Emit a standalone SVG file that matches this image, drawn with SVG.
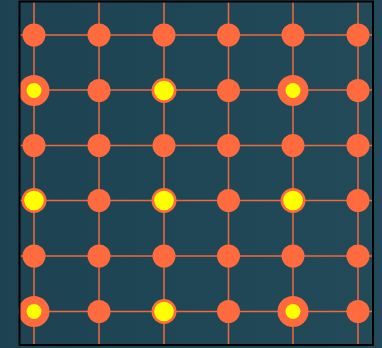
<svg xmlns="http://www.w3.org/2000/svg" width="382" height="348" viewBox="0 0 382 348">
<defs>
<linearGradient id="bg" x1="0" y1="0" x2="1" y2="0">
<stop offset="0" stop-color="#1d4352"/>
<stop offset="1" stop-color="#224a58"/>
</linearGradient>
</defs>
<style>
.ln{stroke:#f0683f;stroke-width:1.5;fill:none}
.n{fill:#ff6a3e}
.y{fill:#ffff00}
</style>
<rect x="0" y="0" width="382" height="348" fill="url(#bg)"/>
<g id="connectors">
<line class="ln" x1="34" y1="2" x2="34" y2="345"/>
<line class="ln" x1="99" y1="2" x2="99" y2="345"/>
<line class="ln" x1="164" y1="2" x2="164" y2="345"/>
<line class="ln" x1="228.5" y1="2" x2="228.5" y2="345"/>
<line class="ln" x1="293" y1="2" x2="293" y2="345"/>
<line class="ln" x1="358" y1="2" x2="358" y2="345"/>
<line class="ln" x1="20" y1="35" x2="373" y2="35"/>
<line class="ln" x1="20" y1="90" x2="373" y2="90"/>
<line class="ln" x1="20" y1="145.5" x2="373" y2="145.5"/>
<line class="ln" x1="20" y1="200.5" x2="373" y2="200.5"/>
<line class="ln" x1="20" y1="256" x2="373" y2="256"/>
<line class="ln" x1="20" y1="311.5" x2="373" y2="311.5"/>
</g>
<g id="n-0-0"><circle class="n" cx="34" cy="35" r="11.5"/></g>
<g id="n-0-1"><circle class="n" cx="99" cy="35" r="11.5"/></g>
<g id="n-0-2"><circle class="n" cx="164" cy="35" r="11.5"/></g>
<g id="n-0-3"><circle class="n" cx="228.5" cy="35" r="11.5"/></g>
<g id="n-0-4"><circle class="n" cx="293" cy="35" r="11.5"/></g>
<g id="n-0-5"><circle class="n" cx="358" cy="35" r="11.5"/></g>

<g id="n-1-0"><circle class="n" cx="34" cy="90.5" r="15.5"/><circle class="y" cx="34" cy="90.5" r="7.5"/></g>
<g id="n-1-1"><circle class="n" cx="99" cy="90.5" r="11.5"/></g>
<g id="n-1-2"><circle class="n" cx="164" cy="90.5" r="12.5"/><circle class="y" cx="164" cy="90.5" r="9.8"/></g>
<g id="n-1-3"><circle class="n" cx="228.5" cy="90.5" r="11.5"/></g>
<g id="n-1-4"><circle class="n" cx="293" cy="90.5" r="15.5"/><circle class="y" cx="293" cy="90.5" r="7.5"/></g>
<g id="n-1-5"><circle class="n" cx="358" cy="90.5" r="11.5"/></g>

<g id="n-2-0"><circle class="n" cx="34" cy="145.5" r="11.5"/></g>
<g id="n-2-1"><circle class="n" cx="99" cy="145.5" r="11.5"/></g>
<g id="n-2-2"><circle class="n" cx="164" cy="145.5" r="11.5"/></g>
<g id="n-2-3"><circle class="n" cx="228.5" cy="145.5" r="11.5"/></g>
<g id="n-2-4"><circle class="n" cx="293" cy="145.5" r="11.5"/></g>
<g id="n-2-5"><circle class="n" cx="358" cy="145.5" r="11.5"/></g>

<g id="n-3-0"><circle class="n" cx="34" cy="200.5" r="12.5"/><circle class="y" cx="34" cy="200.5" r="9.8"/></g>
<g id="n-3-1"><circle class="n" cx="99" cy="200.5" r="11.5"/></g>
<g id="n-3-2"><circle class="n" cx="164" cy="200.5" r="12.5"/><circle class="y" cx="164" cy="200.5" r="9.8"/></g>
<g id="n-3-3"><circle class="n" cx="228.5" cy="200.5" r="11.5"/></g>
<g id="n-3-4"><circle class="n" cx="293" cy="200.5" r="12.5"/><circle class="y" cx="293" cy="200.5" r="9.8"/></g>
<g id="n-3-5"><circle class="n" cx="358" cy="200.5" r="11.5"/></g>

<g id="n-4-0"><circle class="n" cx="34" cy="256" r="11.5"/></g>
<g id="n-4-1"><circle class="n" cx="99" cy="256" r="11.5"/></g>
<g id="n-4-2"><circle class="n" cx="164" cy="256" r="11.5"/></g>
<g id="n-4-3"><circle class="n" cx="228.5" cy="256" r="11.5"/></g>
<g id="n-4-4"><circle class="n" cx="293" cy="256" r="11.5"/></g>
<g id="n-4-5"><circle class="n" cx="358" cy="256" r="11.5"/></g>

<g id="n-5-0"><circle class="n" cx="34" cy="311.5" r="15.5"/><circle class="y" cx="34" cy="311.5" r="7.5"/></g>
<g id="n-5-1"><circle class="n" cx="99" cy="311.5" r="11.5"/></g>
<g id="n-5-2"><circle class="n" cx="164" cy="311.5" r="12.5"/><circle class="y" cx="164" cy="311.5" r="9.8"/></g>
<g id="n-5-3"><circle class="n" cx="228.5" cy="311.5" r="11.5"/></g>
<g id="n-5-4"><circle class="n" cx="293" cy="311.5" r="15.5"/><circle class="y" cx="293" cy="311.5" r="7.5"/></g>
<g id="n-5-5"><circle class="n" cx="358" cy="311.5" r="11.5"/></g>

<rect x="19.5" y="1.5" width="353.5" height="343.5" fill="none" stroke="#000" stroke-width="2"/>
</svg>
